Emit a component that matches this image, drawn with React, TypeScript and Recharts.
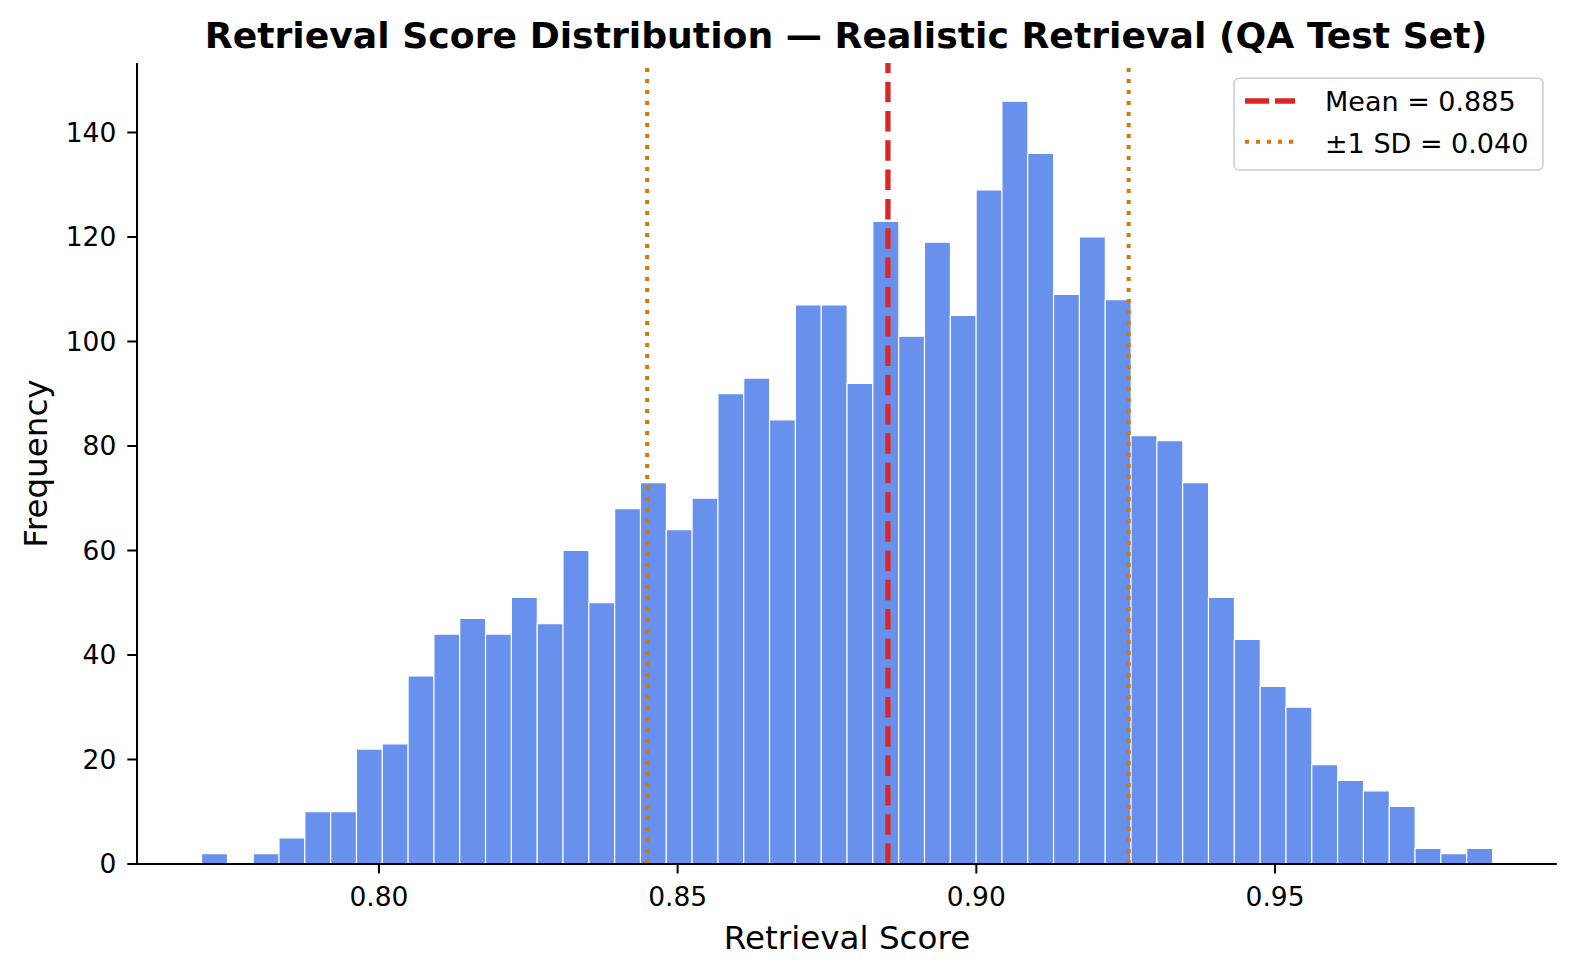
import React from 'react';
import { BarChart, Bar, XAxis, YAxis, ReferenceLine } from 'recharts';

// histogram: 50 equal bins
const BIN_START = 0.7703;
const BIN_WIDTH = 0.004322;
const COUNTS = [
  2, 0, 2, 5, 10, 10, 22, 23, 36, 44,
  47, 44, 51, 46, 60, 50, 68, 73, 64, 70,
  90, 93, 85, 107, 107, 92, 123, 101, 119, 105,
  129, 146, 136, 109, 120, 108, 82, 81, 73, 51,
  43, 34, 30, 19, 16, 14, 11, 3, 2, 3,
];
const X_TICKS = [0.8, 0.85, 0.9, 0.95];
const Y_TICKS = [0, 20, 40, 60, 80, 100, 120, 140];
const X_DOMAIN: [number, number] = [0.7595, 0.9972];
const Y_DOMAIN: [number, number] = [0, 153.3];
const MEAN = 0.8852;
const SD = 0.0403;
const MEAN_LABEL = 'Mean = 0.885';
const SD_LABEL = '±1 SD = 0.040';

const W = 1577;
const H = 976;
const MARGIN = { top: 63, right: 20, bottom: 0, left: 0 };
const Y_AXIS_W = 137;
const X_AXIS_H = 112;
const PLOT_W = W - MARGIN.left - MARGIN.right - Y_AXIS_W;

const FONT = '"DejaVu Sans", sans-serif';
const BAR_COLOR = '#6891ee';
const RED = '#dc2626';
const ORANGE = '#d97706';

const data = COUNTS.map((count, i) => ({
  bin: i,
  center: BIN_START + (i + 0.5) * BIN_WIDTH,
  count,
}));

// pixel padding so the category bands line up with the numeric axis
const span = X_DOMAIN[1] - X_DOMAIN[0];
const padLeft = ((BIN_START - X_DOMAIN[0]) / span) * PLOT_W;
const padRight = ((X_DOMAIN[1] - (BIN_START + COUNTS.length * BIN_WIDTH)) / span) * PLOT_W;

const axisStroke = { stroke: '#000', strokeWidth: 2 };

const App: React.FC = () => {
  return (
    <div style={{ position: 'absolute', left: 0, top: 0, width: W, height: H, background: '#fff' }}>
      <BarChart
        width={W}
        height={H}
        data={data}
        margin={MARGIN}
        barCategoryGap={0}
        barGap={0}
      >
        <XAxis
          xAxisId="num"
          dataKey="center"
          type="number"
          domain={X_DOMAIN}
          allowDataOverflow
          ticks={X_TICKS}
          interval={0}
          tickFormatter={(v: number) => v.toFixed(2)}
          height={X_AXIS_H}
          tickSize={9.5}
          tickMargin={13.5}
          axisLine={axisStroke}
          tickLine={axisStroke}
          tick={{ fill: '#000', fontSize: 26.5, fontFamily: FONT }}
        />
        <XAxis
          xAxisId="bins"
          dataKey="bin"
          type="category"
          hide
          height={0}
          padding={{ left: padLeft, right: padRight }}
        />
        <YAxis
          domain={Y_DOMAIN}
          allowDataOverflow
          ticks={Y_TICKS}
          interval={0}
          width={Y_AXIS_W}
          tickSize={9.7}
          tickMargin={11}
          axisLine={axisStroke}
          tickLine={axisStroke}
          tick={{ fill: '#000', fontSize: 26.5, fontFamily: FONT }}
        />
        <Bar
          xAxisId="bins"
          dataKey="count"
          fill={BAR_COLOR}
          stroke="#ffffff"
          strokeWidth={1.2}
          isAnimationActive={false}
        />
        <ReferenceLine xAxisId="num" x={MEAN} stroke={RED} strokeWidth={5.3} strokeDasharray="20.5 8.8" />
        <ReferenceLine xAxisId="num" x={MEAN - SD} stroke={ORANGE} strokeWidth={4} strokeDasharray="4 7" />
        <ReferenceLine xAxisId="num" x={MEAN + SD} stroke={ORANGE} strokeWidth={4} strokeDasharray="4 7" />
      </BarChart>

      {/* title, axis labels and legend box */}
      <svg
        width={W}
        height={H}
        style={{ position: 'absolute', left: 0, top: 0, pointerEvents: 'none' }}
        fontFamily={FONT}
      >
        <text x={846} y={47.7} textAnchor="middle" fontSize={36.2} fontWeight="bold" fill="#000">
          Retrieval Score Distribution — Realistic Retrieval (QA Test Set)
        </text>
        <text x={847} y={949.3} textAnchor="middle" fontSize={32.6} fill="#000">
          Retrieval Score
        </text>
        <text x={47} y={463.5} textAnchor="middle" fontSize={32.6} fill="#000" transform="rotate(-90 47 463.5)">
          Frequency
        </text>

        <rect x={1234} y={78.3} width={309} height={91.7} rx={5} fill="#fff" fillOpacity={0.8} stroke="#cccccc" strokeWidth={1.5} />
        <line x1={1245} y1={101} x2={1295} y2={101} stroke={RED} strokeWidth={5.3} strokeDasharray="24 6" />
        <text x={1325} y={110.7} fontSize={27} fill="#000">{MEAN_LABEL}</text>
        <line x1={1245} y1={141.7} x2={1295} y2={141.7} stroke={ORANGE} strokeWidth={4} strokeDasharray="4 7" />
        <text x={1325} y={152.7} fontSize={27} fill="#000">{SD_LABEL}</text>
      </svg>
    </div>
  );
};

export default App;
